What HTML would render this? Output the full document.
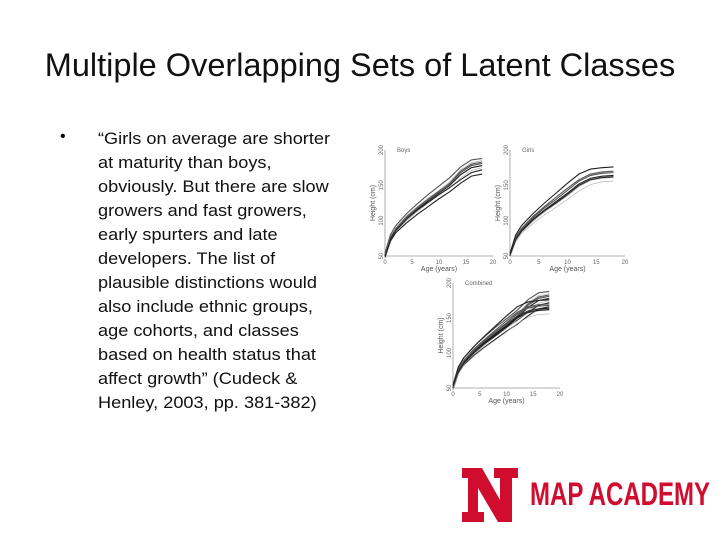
<!DOCTYPE html>
<html><head><meta charset="utf-8"><style>
body{margin:0;width:720px;height:540px;background:#fff;font-family:"Liberation Sans",sans-serif;overflow:hidden;position:relative}
#title{position:absolute;left:0;top:47px;width:720px;text-align:center;font-size:32.5px;color:#111;white-space:nowrap}
#bullet{position:absolute;left:60px;top:128px;font-size:16px}
#body{position:absolute;left:98px;top:127px;font-size:16.5px;line-height:24px;color:#111;white-space:nowrap;transform:scaleX(1.1);transform-origin:left top}
svg{position:absolute;left:0;top:0}
</style></head><body>
<div id="title">Multiple Overlapping Sets of Latent Classes</div>
<div id="bullet">•</div>
<div id="body">“Girls on average are shorter<br>at maturity than boys,<br>obviously. But there are slow<br>growers and fast growers,<br>early spurters and late<br>developers. The list of<br>plausible distinctions would<br>also include ethnic groups,<br>age cohorts, and classes<br>based on health status that<br>affect growth” (Cudeck &amp;<br>Henley, 2003, pp. 381-382)</div>
<svg id="chart" width="720" height="540"></svg>
<div style="position:absolute;left:460px;top:466px;width:60px;height:58px">
<svg width="60" height="58" viewBox="0 0 60 58"><path d="M2,2 H22 L40,34 V12 H34 V2 H58 V12 H52 V56 H38 L18,22 V46 H24 V56 H2 V46 H8 V12 H2 Z" fill="#d00c2f"/></svg></div>
<div style="position:absolute;left:530px;top:476px;font-size:32px;font-weight:bold;color:#d00c2f;transform:scaleX(0.75);transform-origin:left;white-space:nowrap">MAP ACADEMY</div>
<script>
const ages=[0,1,2,4,6,8,10,12,14,16,18];
const boys=[
[50,75,87,103,116,128,139,150,165,175,178],
[52,77,89,106,119,131,142,152,168,178,181],
[49,73,85,100,113,125,136,146,160,171,175],
[51,76,88,104,118,130,141,153,170,180,183],
[50,74,86,102,115,126,137,147,158,168,172],
[53,78,90,107,120,132,143,155,172,182,185],
[48,71,83,97,109,120,131,141,153,163,166],
[54,80,93,110,124,137,149,161,176,186,188]];
const girls=[
[50,74,86,102,115,127,139,152,160,163,164],
[51,76,88,104,118,130,143,156,164,167,168],
[49,72,84,99,112,124,135,148,157,160,161],
[52,77,89,106,120,133,146,158,166,169,170],
[50,73,85,101,114,125,137,150,158,161,162],
[48,70,82,96,108,119,130,142,151,155,156],
[54,80,93,110,125,139,153,166,173,175,176]];
const xTicks=[0,5,10,15,20];
const yTicks=[50,100,150,200];
const NS="http://www.w3.org/2000/svg";
const svg=document.getElementById('chart');
function mk(t,a,p){const e=document.createElementNS(NS,t);for(const k in a)e.setAttribute(k,a[k]);(p||svg).appendChild(e);return e;}
function panel(name,x0,x1,yb,yt,title,sets){
  const g=mk('g',{});
  
  
  const sx=a=>x0+(a/20)*(x1-x0), sy=h=>yb-(h-50)/150*(yb-yt);
  mk('line',{x1:x0,y1:yt,x2:x0,y2:yb,stroke:'#999','stroke-width':0.8},g);
  mk('line',{x1:x0,y1:yb,x2:x1,y2:yb,stroke:'#999','stroke-width':0.8},g);
  xTicks.forEach(t=>{const e=mk('text',{x:sx(t),y:yb+8,'font-size':6,'text-anchor':'middle',fill:'#666'},g);e.textContent=t;});
  yTicks.forEach(t=>{const e=mk('text',{x:x0-2,y:sy(t),'font-size':6,'text-anchor':'middle',fill:'#666',transform:`rotate(-90 ${x0-2} ${sy(t)})`},g);e.textContent=t;});
  const xl=mk('text',{x:(x0+x1)/2,y:yb+15,'font-size':7,'text-anchor':'middle',fill:'#555'},g);xl.textContent='Age (years)';
  const yl=mk('text',{x:x0-10,y:(yb+yt)/2,'font-size':7,'text-anchor':'middle',fill:'#555',transform:`rotate(-90 ${x0-10} ${(yb+yt)/2})`},g);yl.textContent='Height (cm)';
  const tl=mk('text',{x:x0+12,y:yt+2,'font-size':6,fill:'#666'},g);tl.textContent=title;
  sets.forEach(set=>set.forEach((c,i)=>{
    const p=mk('polyline',{points:c.map((h,j)=>sx(ages[j])+','+sy(h)).join(' '),fill:'none',stroke:i%3==2?'#aaa':(i%2?'#555':'#222'),'stroke-width':i%3==2?0.6:1.1},g);
    
    
  }));
}
panel('boys-panel',385,493,256,150,'Boys',[boys]);
panel('girls-panel',510,625,256,150,'Girls',[girls]);
panel('combined-panel',453,560,388,283,'Combined',[boys,girls]);
</script>
</body></html>
